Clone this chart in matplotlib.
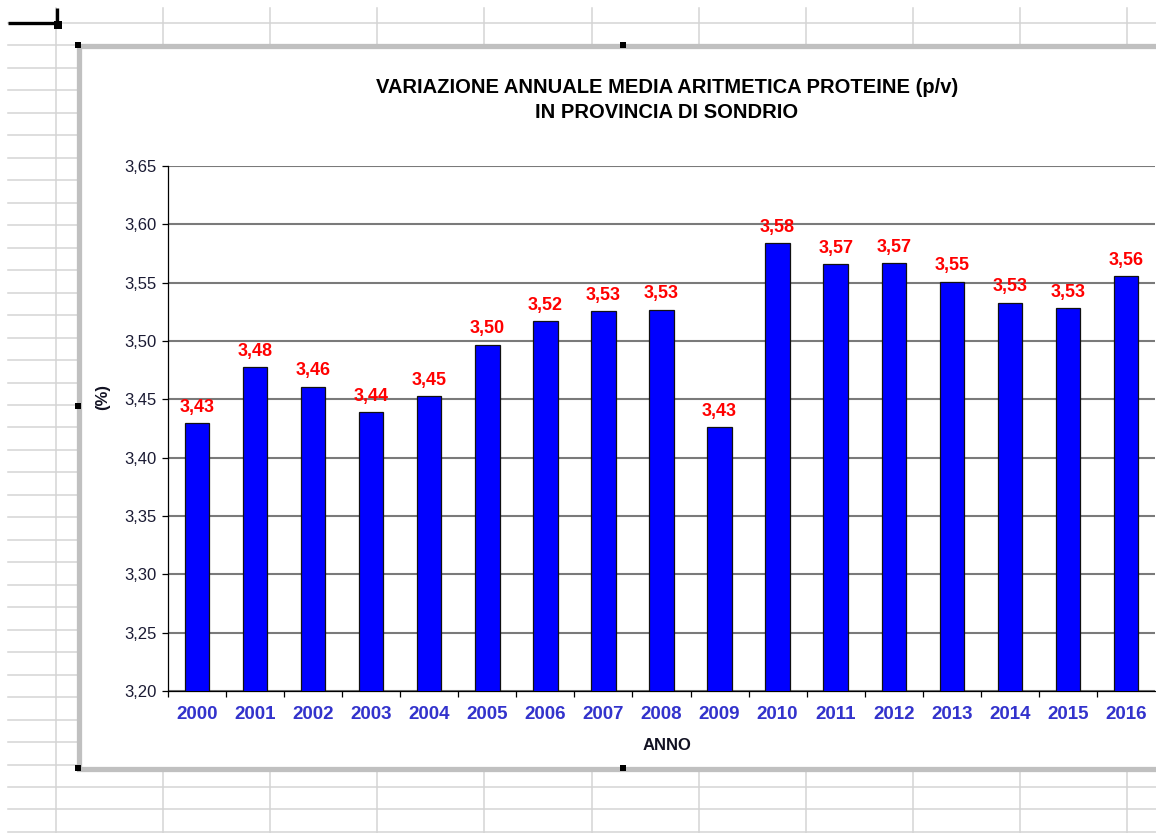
import matplotlib
matplotlib.use("Agg")
import matplotlib.pyplot as plt
from matplotlib.lines import Line2D
from matplotlib.patches import Rectangle
import numpy as np

plt.rcParams['font.family'] = ['Liberation Sans', 'DejaVu Sans']

# data
anni = ["2000", "2001", "2002", "2003", "2004", "2005", "2006", "2007", "2008",
        "2009", "2010", "2011", "2012", "2013", "2014", "2015", "2016"]
proteine = [3.430, 3.478, 3.461, 3.439, 3.453, 3.497, 3.517, 3.526, 3.527,
            3.426, 3.584, 3.566, 3.567, 3.551, 3.533, 3.528, 3.556]
y_ticks = [3.20, 3.25, 3.30, 3.35, 3.40, 3.45, 3.50, 3.55, 3.60, 3.65]

W, H = 1156, 833
fig = plt.figure(figsize=(W / 100, H / 100), dpi=100)
fig.patch.set_facecolor("white")


def fx(px):
    return px / W


def fy(py):
    return 1 - py / H


# spreadsheet cell grid behind the chart
for k in range(37):
    y = 23 + 22.47 * k
    fig.add_artist(Line2D([fx(8), fx(W)], [fy(y), fy(y)], color="#d4d4d4",
                          lw=1.1, zorder=-5))
for k in range(11):
    x = 56 + 107.1 * k
    fig.add_artist(Line2D([fx(x), fx(x)], [fy(8), fy(H)], color="#d4d4d4",
                          lw=1.1, zorder=-5))

# active cell cursor
fig.add_artist(Line2D([fx(8), fx(57)], [fy(23), fy(23)], color="black",
                      lw=2.4, zorder=-4, solid_capstyle="butt"))
fig.add_artist(Line2D([fx(57), fx(57)], [fy(8), fy(25)], color="black",
                      lw=2.4, zorder=-4, solid_capstyle="butt"))
fig.add_artist(Rectangle((fx(54), fy(29)), 8 / W, 8 / H, transform=fig.transFigure,
                         facecolor="black", edgecolor="none", zorder=-4))

# chart frame
fig.add_artist(Rectangle((fx(78.5), fy(768.5)), (1300 - 78.5) / W, (768.5 - 45.5) / H,
                         transform=fig.transFigure, facecolor="white",
                         edgecolor="#c0c0c0", lw=3.8, zorder=-3))
for hx, hy in [(78, 45), (623, 45), (78, 406), (78, 768), (623, 768)]:
    fig.add_artist(Rectangle((fx(hx - 3), fy(hy + 3)), 6 / W, 6 / H,
                             transform=fig.transFigure, facecolor="black",
                             edgecolor="none", zorder=-2))

# plot area
ax = fig.add_axes([fx(168), fy(691), (1155 - 168) / W, (691 - 166) / H])
ax.set_facecolor("white")
x = np.arange(len(anni))
bars = ax.bar(x, proteine, width=0.42, color="#0000ff", edgecolor="#111111",
              lw=0.9, zorder=3)

for xi, v in zip(x, proteine):
    ax.annotate(f"{v:.2f}".replace(".", ","), (xi, v), xytext=(0, 8),
                textcoords="offset points", ha="center", va="baseline",
                color="red", fontsize=13, fontweight="bold", zorder=4)

ax.set_ylim(3.20, 3.65)
ax.set_xlim(-0.5, len(anni) - 0.5)
ax.set_yticks(y_ticks)
ax.set_yticklabels([f"{t:.2f}".replace(".", ",") for t in y_ticks],
                   fontsize=12, color="#1a1a33")
ax.yaxis.grid(True, color="#7a7a7a", lw=1.5, zorder=0)
ax.set_axisbelow(True)

ax.set_xticks(x)
ax.set_xticklabels(anni, fontsize=13.5, fontweight="bold", color="#3333cc")
ax.set_xticks(np.arange(-0.5, len(anni) - 0.5, 1), minor=True)
ax.tick_params(axis="x", which="major", length=0, pad=11)
ax.tick_params(axis="x", which="minor", length=4.5, width=0.9, direction="out")
ax.tick_params(axis="y", length=4.5, width=0.9, direction="out", pad=4)

for s in ["top", "right"]:
    ax.spines[s].set_visible(False)
for s in ["left", "bottom"]:
    ax.spines[s].set_color("black")
    ax.spines[s].set_linewidth(0.9)

fig.text(fx(667), fy(100),
         "VARIAZIONE ANNUALE MEDIA ARITMETICA PROTEINE (p/v)\nIN PROVINCIA DI SONDRIO",
         ha="center", va="center", fontsize=14.5, fontweight="bold",
         linespacing=1.45, color="black")
fig.text(fx(667), fy(746), "ANNO", ha="center", va="center", fontsize=12,
         fontweight="bold", color="#111122")
fig.text(fx(103), fy(397), "(%)", ha="center", va="center", fontsize=12,
         fontweight="bold", rotation=90, color="#111122")

fig.savefig("out.png", dpi=100)
